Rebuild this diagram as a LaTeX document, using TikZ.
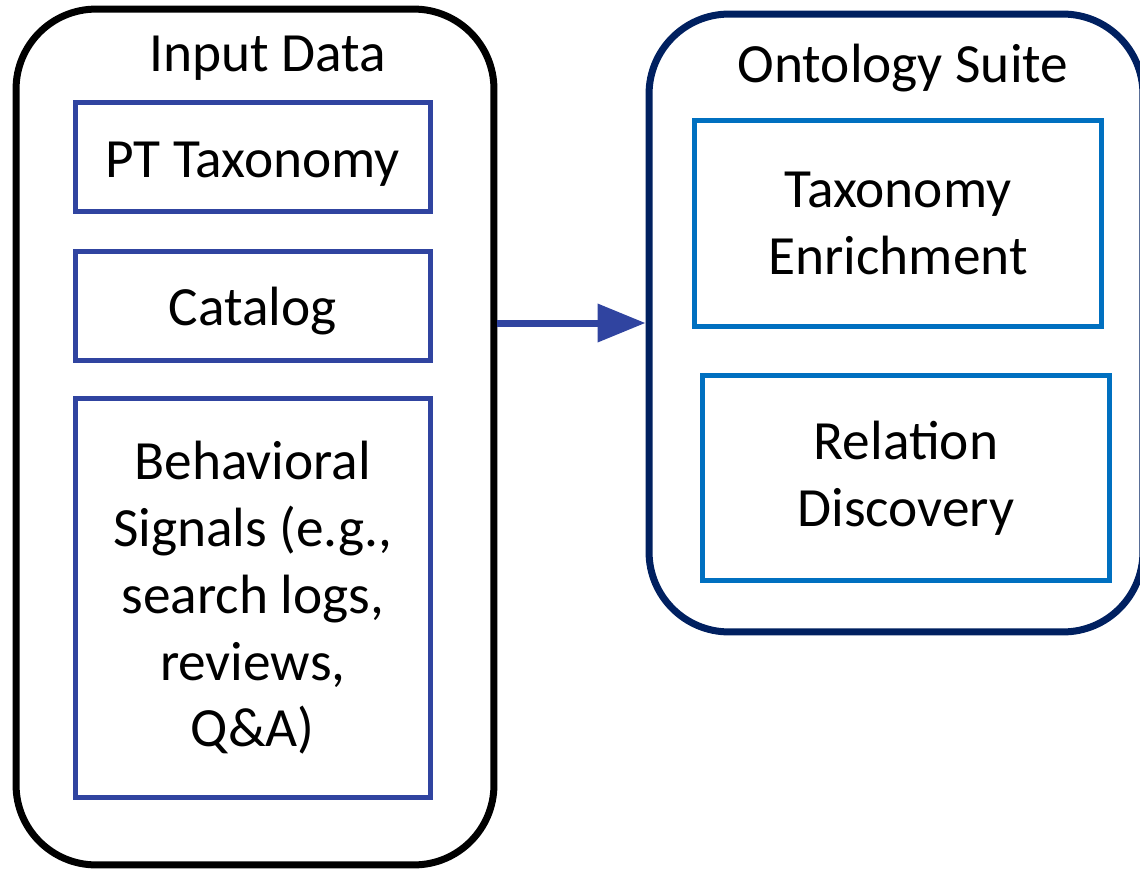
\documentclass[tikz,border=0pt]{standalone}
\usepackage{fontspec}
\setmainfont{Carlito}
\usetikzlibrary{arrows.meta}

\begin{document}
\begin{tikzpicture}[
  x=0.02cm, y=-0.02cm,
  font=\fontsize{31.5}{38}\selectfont,
  panel/.style={rounded corners=1.6cm, line width=0.14cm, inner sep=0pt},
  boxtext/.style={align=center, inner sep=0pt, execute at begin node={\rule{0pt}{28pt}}},
  inbox/.style={boxtext, draw=inputBlue, line width=0.1cm, minimum width=7.1cm},
  outbox/.style={boxtext, draw=suiteBlue, line width=0.1cm, minimum width=8.16cm, minimum height=4.12cm},
  paneltitle/.style={anchor=base},
  flow/.style={draw=inputBlue, line width=0.14cm, -{Triangle[length=0.96cm, width=0.74cm]}},
]

\definecolor{inputBlue}{RGB}{48,68,160}
\definecolor{suiteBlue}{RGB}{0,112,192}
\definecolor{suiteNavy}{RGB}{0,32,96}

\useasboundingbox (0,0) rectangle (1140,869);

% Input side.
\node[panel, draw=black, minimum width=9.56cm, minimum height=17.12cm] (inputdata) at (255,437) {};
\node[paneltitle] (inputtitle) at (268,71) {Input Data};
\node[inbox, minimum height=2.17cm] (taxonomy) at (252.75,157) {PT Taxonomy};
\node[inbox, minimum height=2.2cm] (catalog) at (252.75,306) {Catalog};
\node[inbox, minimum height=8.0cm] (signals) at (252.75,598) {Behavioral\\Signals (e.g.,\\search logs,\\reviews,\\Q\&A)};

% Ontology side.
\node[panel, draw=suiteNavy, minimum width=9.88cm, minimum height=12.36cm] (ontology) at (896,323) {};
\node[paneltitle] (ontologytitle) at (903,82) {Ontology Suite};
\node[outbox] (enrichment) at (898,223.5) {Taxonomy\\Enrichment};
\node[outbox] (relation) at (906,478) {Relation\\Discovery};

% Arrow.
\draw[flow] (inputdata.east |- ontology.west) -- (ontology.west);

\end{tikzpicture}
\end{document}
